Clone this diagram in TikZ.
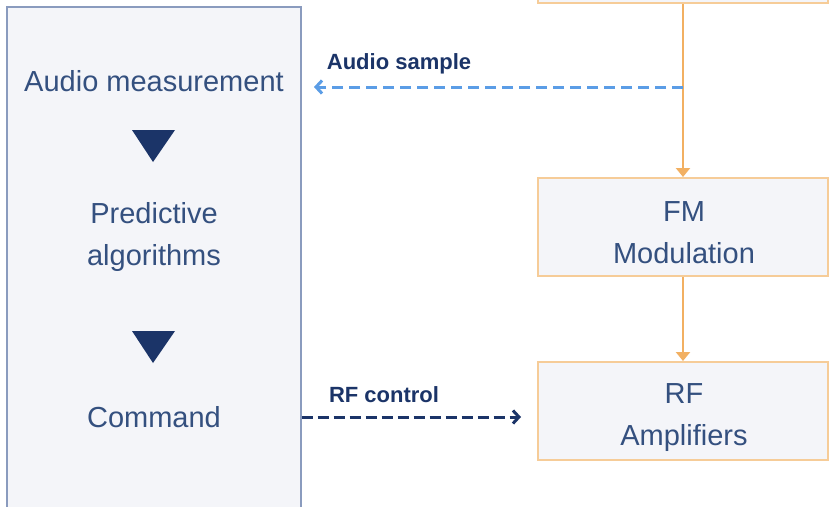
\documentclass[tikz,border=0pt]{standalone}
\usepackage{fontspec}
\setmainfont{Liberation Sans}
\usetikzlibrary{arrows.meta,positioning}
\definecolor{boxtext}{HTML}{34507F}
\definecolor{boxfill}{HTML}{F4F5F9}
\definecolor{ctrlborder}{HTML}{8A9BBE}
\definecolor{chainborder}{HTML}{F6CC98}
\definecolor{chainline}{HTML}{F2B062}
\definecolor{navy}{HTML}{1B3468}
\definecolor{skyblue}{HTML}{5B9DE6}

\tikzset{
  bigtext/.style={text=boxtext, font=\fontsize{29}{42}\selectfont, align=center},
  chainbox/.style={draw=chainborder, fill=boxfill, line width=2pt, minimum width=290pt, minimum height=98pt},
  lbl/.style={text=navy, font=\fontsize{22}{24}\selectfont\bfseries},
  flow/.style={draw=chainline, line width=2.5pt, -{Triangle[length=9pt,width=14pt]}},
}

\begin{document}
\begin{tikzpicture}[x=1pt,y=-1pt]
			%%%%% START %%%%%
			\clip (0,0) rectangle (829,506);
			\fill[white] (0,0) rectangle (829,506);
			
			% control block on the left
			\node[draw=ctrlborder, fill=boxfill, line width=1.3pt, minimum width=294pt, minimum height=540pt] (ctrl) at (154,277) {};
			\node[bigtext] (meas) at (154,81) {Audio measurement};
			\node[bigtext] (pred) at (154,237) {Predictive\\algorithms};
			\node[bigtext] (cmd) at (154,417) {Command};
			\fill[navy] (132,130) -- (175,130) -- (153,162) -- cycle;
			\fill[navy] (132,331) -- (175,331) -- (153,363) -- cycle;
			
			% transmitter chain on the right
			\node[chainbox] (src) at (683,-46) {};
			\node[chainbox] (fm) at (683,227) {};
			\node[bigtext] (fmtxt) at (684,233) {FM\\Modulation};
			\node[chainbox] (rf) at (683,411) {};
			\node[bigtext] (rftxt) at (684,418) {RF\\Amplifiers};
			
			\draw[flow] (src.south) -- (fm.north);
			\draw[flow] (fm.south) -- (rf.north);
			
			% feedback and control paths
			\coordinate (tap) at (683,87);
			\coordinate (sink) at (314,87);
			\draw[skyblue, line width=3pt, dash pattern=on 11pt off 6pt, -{Straight Barb[length=6pt,width=13pt]}] (tap) -- (sink);
			\node[lbl] (smp) at (399,64) {Audio sample};
			
			\draw[navy, line width=3pt, dash pattern=on 11pt off 5pt, -{Straight Barb[length=6pt,width=13pt]}, shorten >=16pt] (ctrl.east |- cmd) -- (rf.west |- cmd);
			\node[lbl] (rfc) at (384,395) {RF control};
			%%%%% END %%%%%
\end{tikzpicture}
\end{document}
